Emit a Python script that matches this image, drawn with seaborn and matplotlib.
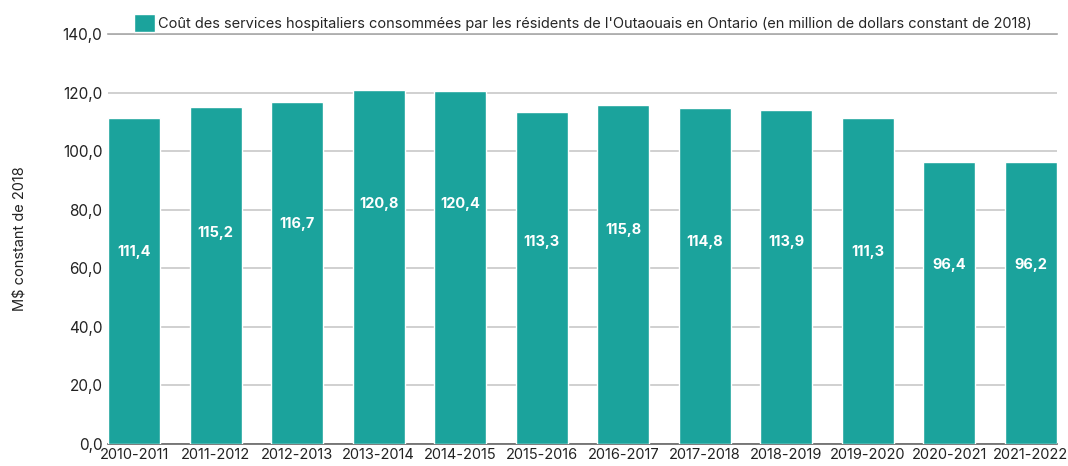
import matplotlib
matplotlib.use("Agg")
import matplotlib.pyplot as plt
import seaborn as sns
import pandas as pd

# data
periods = ["2010-2011", "2011-2012", "2012-2013", "2013-2014", "2014-2015", "2015-2016",
           "2016-2017", "2017-2018", "2018-2019", "2019-2020", "2020-2021", "2021-2022"]
costs = [111.4, 115.2, 116.7, 120.8, 120.4, 113.3, 115.8, 114.8, 113.9, 111.3, 96.4, 96.2]
# heights where the value labels sit
label_y = [65.5, 72.0, 75.0, 82.0, 82.0, 69.0, 73.0, 69.0, 69.0, 65.5, 61.0, 61.0]

legend_text = ("Coût des services hospitaliers consommées par les résidents de "
               "l'Outaouais en Ontario (en million de dollars constant de 2018)")
bar_color = "#1BA39C"

df = pd.DataFrame({"periode": periods, "cout": costs})

sns.set_style("white")
plt.rcParams["font.family"] = ["Inter", "DejaVu Sans"]

fig = plt.figure(figsize=(10.68, 4.66), dpi=100)
ax = fig.add_axes([108 / 1068, 22 / 466, (1057 - 108) / 1068, (444 - 34) / 466])

sns.barplot(data=df, x="periode", y="cout", color=bar_color, width=0.64,
            saturation=1, ax=ax, zorder=3, label=legend_text)

for i, (v, ly) in enumerate(zip(costs, label_y)):
    ax.text(i, ly, f"{v:.1f}".replace(".", ","), ha="center", va="center",
            color="white", fontsize=10.5, fontweight="bold", zorder=4)

ax.set_ylim(0, 140)
ax.set_xlim(-0.32, 11.32)
ax.set_yticks(range(0, 141, 20))
ax.set_yticklabels([f"{t},0" for t in range(0, 141, 20)], fontsize=11, color="#222222")
ax.tick_params(axis="x", labelsize=10.5, colors="#222222", length=0, pad=3)
ax.tick_params(axis="y", length=0, pad=4)
ax.yaxis.grid(True, color="#C8C8C8", linewidth=1.2, zorder=0)
ax.set_axisbelow(True)
for s in ["right", "left"]:
    ax.spines[s].set_visible(False)
ax.spines["top"].set_color("#A8A8A8")
ax.spines["top"].set_linewidth(1.2)
ax.spines["bottom"].set_color("#666666")
ax.spines["bottom"].set_linewidth(1.2)
ax.set_xlabel("")
ax.set_ylabel("M$ constant de 2018", fontsize=10.5, color="#222222", labelpad=26)

leg = ax.legend(loc="lower center", bbox_to_anchor=(0.5, 0.99), frameon=False,
                fontsize=10.5, handlelength=1.5, handleheight=1.5, handletextpad=0.15,
                borderaxespad=0)

fig.savefig("out.png", dpi=100)
